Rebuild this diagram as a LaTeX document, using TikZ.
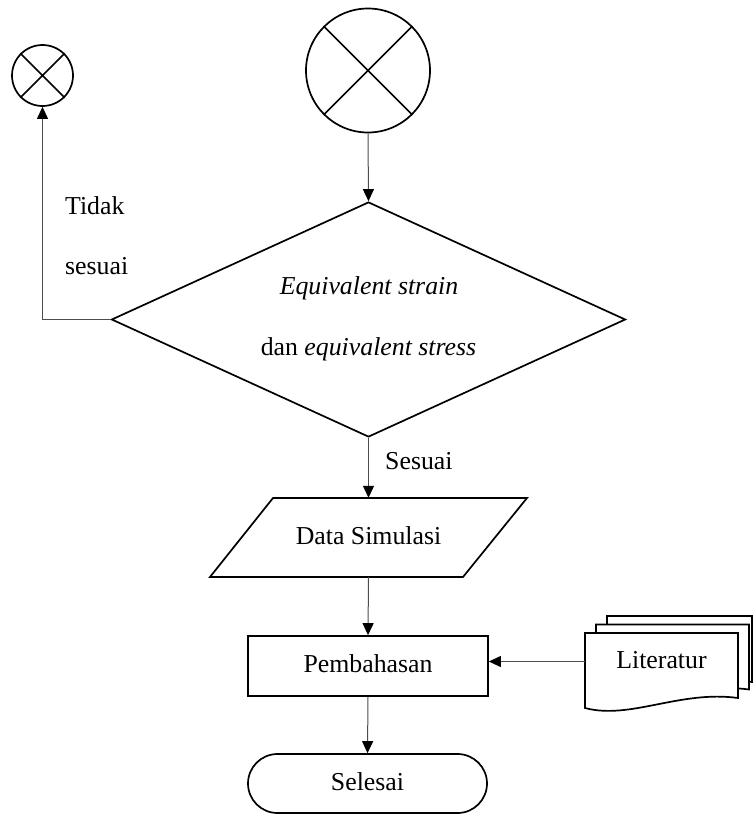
\documentclass[tikz,border=0pt]{standalone}
\usepackage{fontspec}
\setmainfont{Liberation Serif}
\usetikzlibrary{shapes.geometric,arrows.meta}
\begin{document}
\begin{tikzpicture}[x=1pt,y=-1pt,
  shp/.style={draw=black,line width=1.7pt,fill=white},
  conn/.style={draw=black!70,line width=1pt},
  arr/.style={conn,-{Triangle[length=12pt,width=11pt,fill=black,color=black]}},
  txt/.style={font=\fontsize{25.8}{30}\selectfont,inner sep=0pt},
  boxtxt/.style={txt,text height=18pt,text depth=5pt}
]
\useasboundingbox (0,0) rectangle (753,814);

% connectors (on-page reference) circles
\node[shp,circle,minimum size=61pt,inner sep=0pt] (c1) at (42.5,75.5) {};
\draw[shp] (c1.45) -- (c1.225) (c1.135) -- (c1.315);
\node[shp,circle,minimum size=124pt,inner sep=0pt] (c2) at (368,70.5) {};
\draw[shp] (c2.45) -- (c2.225) (c2.135) -- (c2.315);

% decision
\node[shp,diamond,aspect=2.19,minimum width=514pt,minimum height=235pt,inner sep=0pt] (d) at (368.5,319.5) {};
\node[txt,anchor=base] (t1) at (369,294) {\textit{Equivalent strain}};
\node[txt,anchor=base] (t2) at (368.5,355) {dan \textit{equivalent stress}};

% labels
\node[txt,anchor=base west] (l1) at (65,214) {Tidak};
\node[txt,anchor=base west] (l2) at (65,274) {sesuai};
\node[txt,anchor=base west] (l3) at (385,469) {Sesuai};

% data (parallelogram)
\draw[shp] (273,498) -- (527,498) -- (463,577) -- (210,577) -- cycle;
\node[boxtxt,minimum width=254pt,minimum height=79pt] (ds) at (368.5,537.5) {Data Simulasi};

% process
\node[shp,boxtxt,minimum width=240pt,minimum height=60pt] (pb) at (368,666) {Pembahasan};

% terminal
\node[shp,boxtxt,rounded corners=29.5pt,minimum width=239pt,minimum height=59pt] (sel) at (367.5,783.5) {Selesai};

% multi-document
\draw[shp] (607,616) -- (752,616) -- (752,682) .. controls (697,674) and (650,703) .. (607,691) -- cycle;
\draw[shp] (596,624.5) -- (749,624.5) -- (749,689.5) .. controls (691,681.5) and (641,711.5) .. (596,699.5) -- cycle;
\draw[shp] (585,633) -- (738,633) -- (738,698) .. controls (680,690) and (630,720) .. (585,708) -- cycle;
\node[boxtxt,minimum width=153pt] (lit) at (661.5,661.5) {Literatur};

% flow
\draw[arr] (c2.south) -- (d.north);
\draw[arr] (d.west) -| (c1.south);
\draw[arr] (d.south) -- (ds.north);
\draw[arr] (ds.south) -- (pb.north);
\draw[arr] (lit.west) -- (pb.east |- lit.west);
\draw[arr] (pb.south) -- (sel.north);
\end{tikzpicture}
\end{document}
